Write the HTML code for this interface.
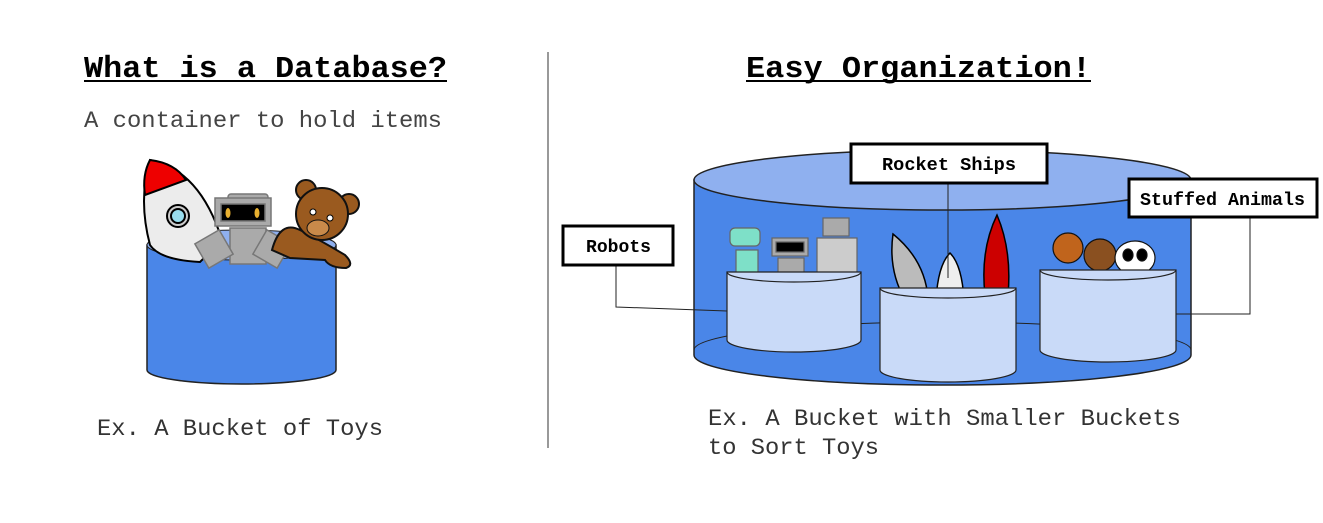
<!DOCTYPE html>
<html><head><meta charset="utf-8"><style>
html,body{margin:0;padding:0;background:#fff;}
svg{display:block}
.m{font-family:"Liberation Mono",monospace}
</style></head><body>
<svg width="1323" height="523" viewBox="0 0 1323 523" xmlns="http://www.w3.org/2000/svg">
<rect width="1323" height="523" fill="#fff"/>
<!-- left -->
<text x="84" y="77" class="m" font-size="31" font-weight="bold" fill="#000" textLength="363" lengthAdjust="spacingAndGlyphs">What is a Database?</text>
<line x1="84" y1="81" x2="447" y2="81" stroke="#000" stroke-width="2"/>
<text x="84" y="127" class="m" font-size="23" fill="#444" textLength="358" lengthAdjust="spacingAndGlyphs">A container to hold items</text>
<line x1="548" y1="52" x2="548" y2="448" stroke="#333" stroke-width="1"/>

<!-- left bucket -->
<path d="M147,245 L147,370 A94.5,14 0 0 0 336,370 L336,245 Z" fill="#4a86e8" stroke="#222" stroke-width="1.5"/>
<ellipse cx="241.5" cy="245" rx="94.5" ry="15" fill="#8fb0ef" stroke="#222" stroke-width="1"/>
<!-- rocket -->
<g stroke="#000" stroke-width="2">
<path d="M150,160 Q200,170 222,240 L200,262 Q160,260 150,245 Q138,200 150,160 Z" fill="#ececec"/>
<path d="M150,160 Q175,163 186,180 L145,195 Q142,175 150,160Z" fill="#e00"/>
<circle cx="178" cy="216" r="11" fill="#ccc"/><circle cx="178" cy="216" r="7" fill="#9de"/>
</g>
<!-- robot -->
<g stroke="#777" stroke-width="1.5" fill="#aaa">
<rect x="228" y="194" width="40" height="8" rx="3"/>
<rect x="215" y="198" width="56" height="28"/>
<rect x="221" y="204" width="44" height="17" fill="#000"/>
<rect x="230" y="228" width="36" height="36"/>
<rect x="200" y="235" width="28" height="28" transform="rotate(-30 214 249)"/>
<rect x="258" y="235" width="28" height="28" transform="rotate(30 272 249)"/>
</g>
<ellipse cx="228" cy="213" rx="2.5" ry="5" fill="#e8b030"/><ellipse cx="257" cy="213" rx="2.5" ry="5" fill="#e8b030"/>
<!-- bear -->
<g stroke="#111" stroke-width="2" fill="#9a5a1f">
<circle cx="306" cy="190" r="10"/><circle cx="349" cy="204" r="10"/>
<path d="M272,250 Q280,220 300,230 Q320,240 345,255 Q355,265 346,268 Q330,268 325,260 L290,258 Z"/>
<circle cx="322" cy="214" r="26"/>
</g>
<ellipse cx="318" cy="228" rx="11" ry="8" fill="#c98a4a" stroke="#111"/>
<circle cx="313" cy="212" r="3" fill="#fff" stroke="#000"/><circle cx="330" cy="218" r="3" fill="#fff" stroke="#000"/>
<text x="97" y="435" class="m" font-size="23" fill="#333" textLength="286" lengthAdjust="spacingAndGlyphs">Ex. A Bucket of Toys</text>

<!-- right -->
<text x="746" y="77" class="m" font-size="31" font-weight="bold" fill="#000" textLength="345" lengthAdjust="spacingAndGlyphs">Easy Organization!</text>
<line x1="746" y1="81" x2="1091" y2="81" stroke="#000" stroke-width="2"/>

<path d="M694,180 L694,355 A248.5,30 0 0 0 1191,355 L1191,180 Z" fill="#4a86e8" stroke="#222" stroke-width="1.5"/>
<path d="M694,350 A248.5,28 0 0 1 1191,350" fill="none" stroke="#222" stroke-width="1"/>
<ellipse cx="942.5" cy="180" rx="248.5" ry="30" fill="#8fb0ef" stroke="#222" stroke-width="1.5"/>

<!-- robots bucket toys -->
<g stroke="#666" stroke-width="1.2">
<rect x="730" y="228" width="30" height="18" rx="5" fill="#7ee0c8"/>
<rect x="736" y="250" width="22" height="26" fill="#7ee0c8"/>
<rect x="823" y="218" width="26" height="18" fill="#aaa"/>
<rect x="817" y="238" width="40" height="38" fill="#ccc"/>
<rect x="772" y="238" width="36" height="18" fill="#aaa"/>
<rect x="776" y="242" width="28" height="10" fill="#000"/>
<rect x="778" y="258" width="26" height="22" fill="#aaa"/>
</g>
<path d="M727,272 L727,340 A67,12 0 0 0 861,340 L861,272 Z" fill="#c9daf8" stroke="#222" stroke-width="1.2"/>
<path d="M727,272 A67,10 0 0 0 861,272" fill="none" stroke="#222" stroke-width="1.2"/>

<!-- rockets -->
<g stroke="#000" stroke-width="1.5">
<path d="M893,234 Q925,260 928,298 L905,300 Q888,270 893,234Z" fill="#bbb"/>
<path d="M950,253 Q962,265 964,300 L936,300 Q938,265 950,253Z" fill="#eee"/>
<path d="M997,215 Q1012,250 1008,295 L985,295 Q980,250 997,215Z" fill="#c00"/>
</g>
<path d="M880,288 L880,370 A68,12 0 0 0 1016,370 L1016,288 Z" fill="#c9daf8" stroke="#222" stroke-width="1.2"/>
<path d="M880,288 A68,10 0 0 0 1016,288" fill="none" stroke="#222" stroke-width="1.2"/>

<!-- animals -->
<g stroke="#111" stroke-width="1.2">
<circle cx="1068" cy="248" r="15" fill="#c0641c"/>
<circle cx="1100" cy="255" r="16" fill="#8a5020"/>
<ellipse cx="1135" cy="258" rx="20" ry="17" fill="#fff"/>
<ellipse cx="1128" cy="255" rx="5" ry="6" fill="#000"/><ellipse cx="1142" cy="255" rx="5" ry="6" fill="#000"/>
</g>
<path d="M1040,270 L1040,350 A68,12 0 0 0 1176,350 L1176,270 Z" fill="#c9daf8" stroke="#222" stroke-width="1.2"/>
<path d="M1040,270 A68,10 0 0 0 1176,270" fill="none" stroke="#222" stroke-width="1.2"/>

<!-- connectors -->
<polyline points="616,265 616,307 727,311" fill="none" stroke="#222" stroke-width="1"/>
<line x1="948" y1="183" x2="948" y2="278" stroke="#222" stroke-width="1"/>
<polyline points="1250,217 1250,314 1176,314" fill="none" stroke="#222" stroke-width="1"/>

<!-- label boxes -->
<g stroke="#000" stroke-width="3" fill="#fff">
<rect x="563" y="226" width="110" height="39"/>
<rect x="851" y="144" width="196" height="39"/>
<rect x="1129" y="179" width="188" height="38"/>
</g>
<g class="m" font-size="18" font-weight="bold" fill="#000">
<text x="586" y="252" textLength="65" lengthAdjust="spacingAndGlyphs">Robots</text>
<text x="882" y="170" textLength="134" lengthAdjust="spacingAndGlyphs">Rocket Ships</text>
<text x="1140" y="205" textLength="165" lengthAdjust="spacingAndGlyphs">Stuffed Animals</text>
</g>

<text x="708" y="425" class="m" font-size="23" fill="#333" textLength="473" lengthAdjust="spacingAndGlyphs">Ex. A Bucket with Smaller Buckets</text>
<text x="708" y="454" class="m" font-size="23" fill="#333" textLength="171" lengthAdjust="spacingAndGlyphs">to Sort Toys</text>
</svg>
</body></html>
